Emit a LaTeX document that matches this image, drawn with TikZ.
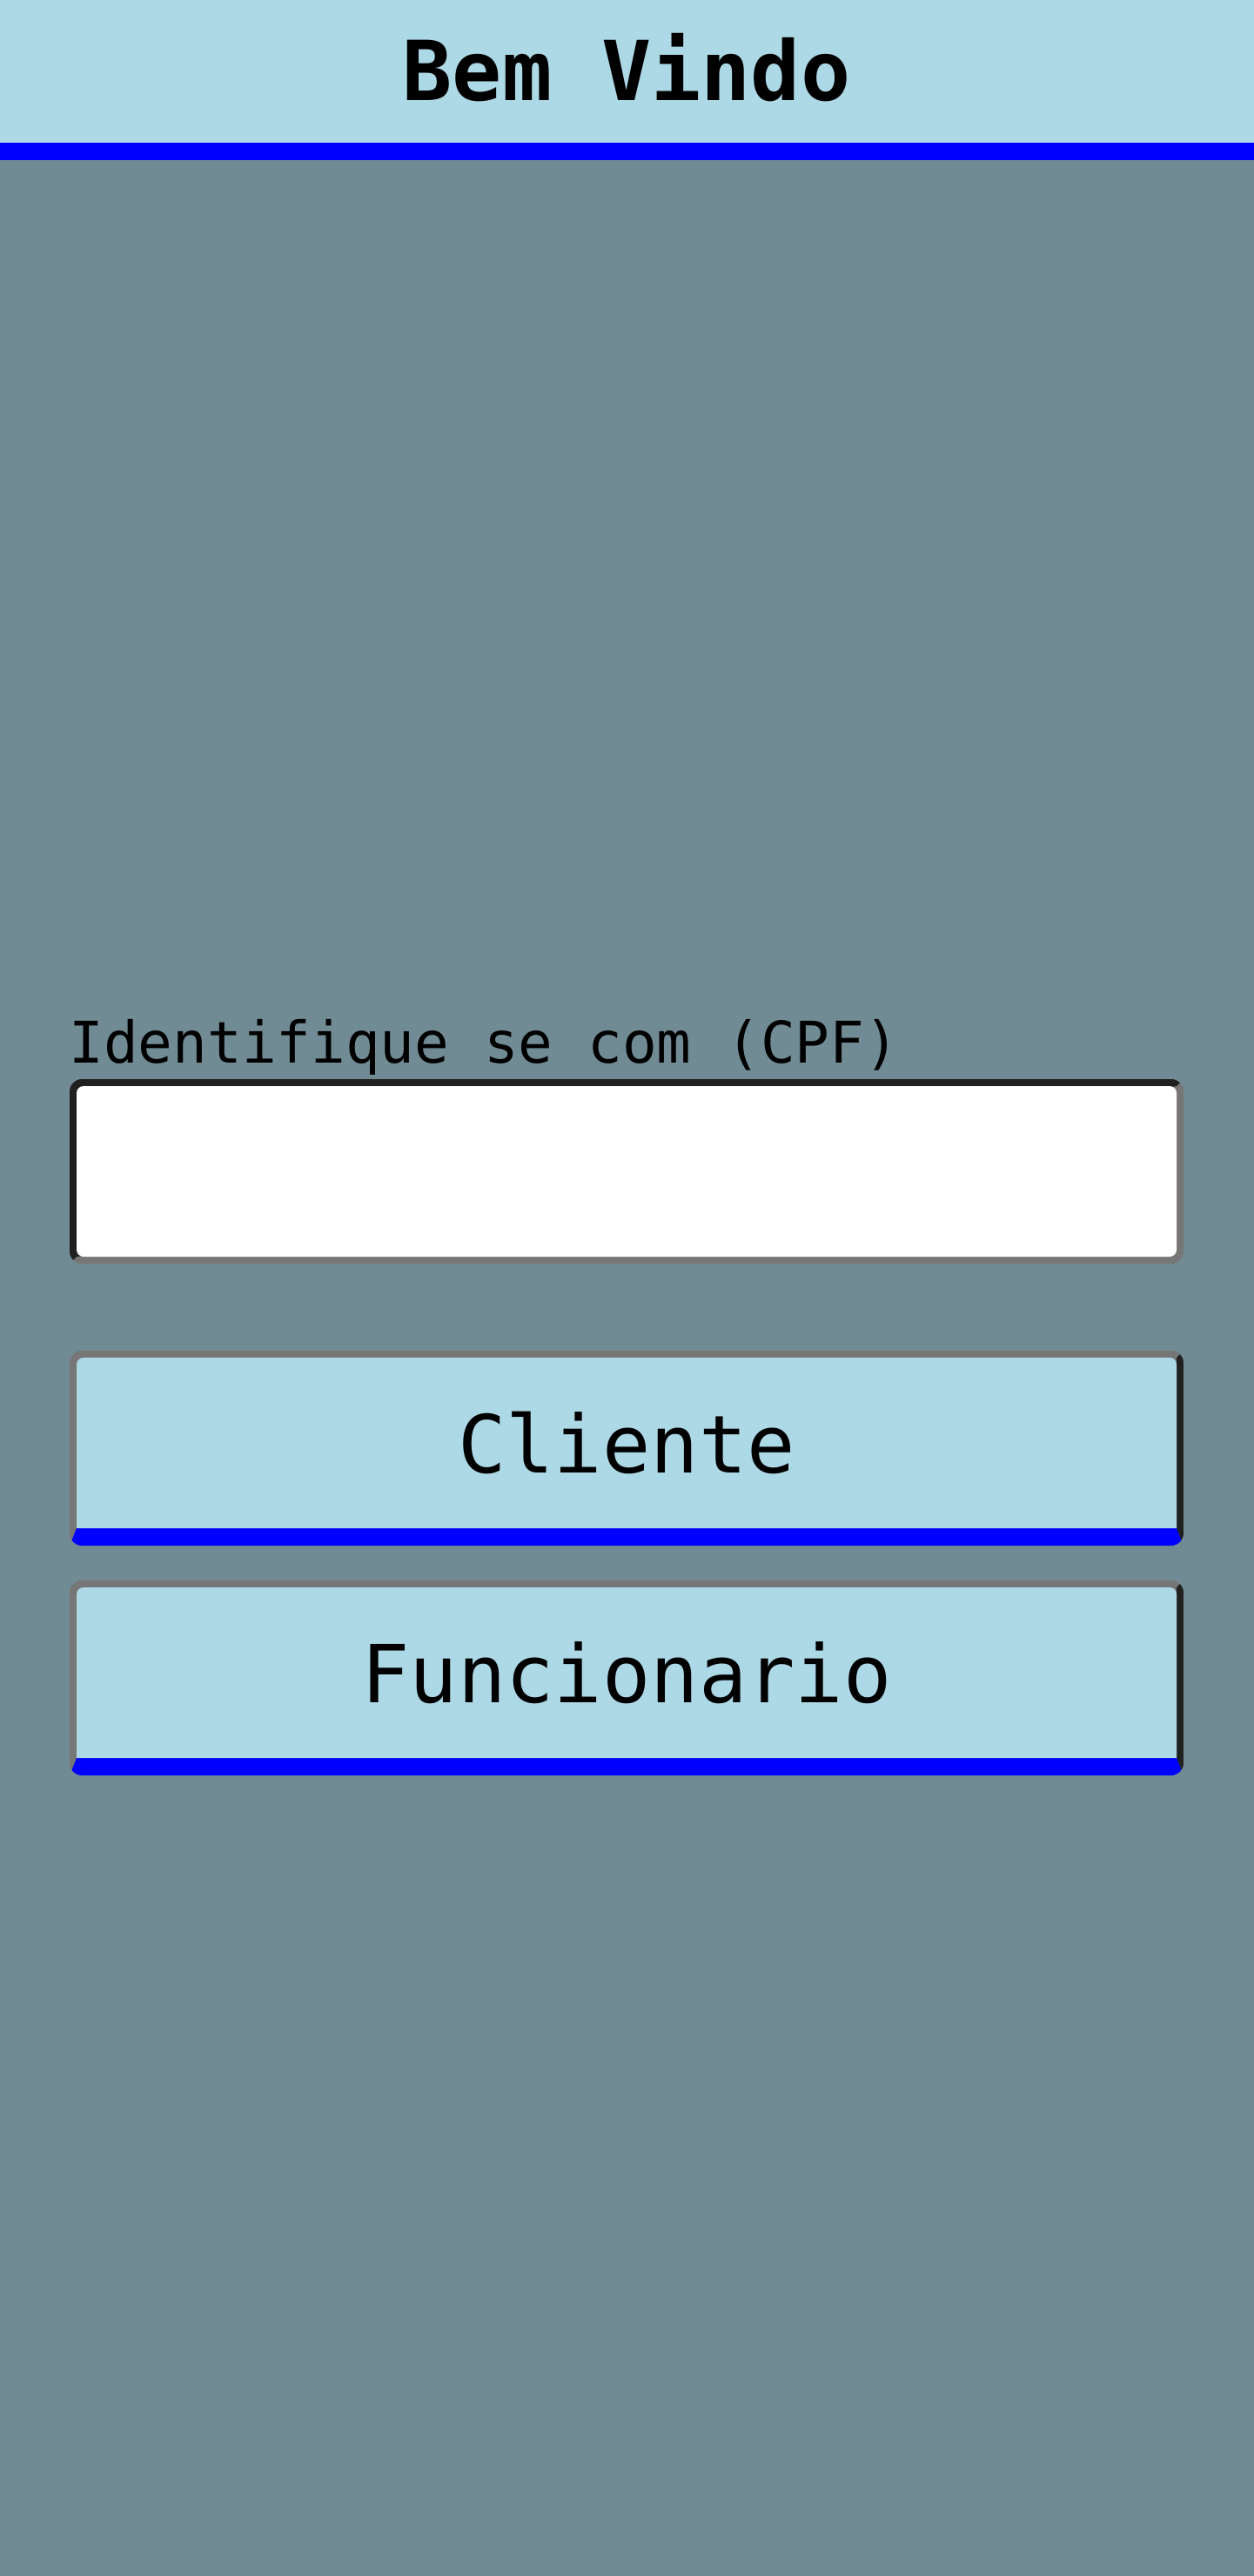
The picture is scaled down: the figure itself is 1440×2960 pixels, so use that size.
\documentclass[tikz,border=0pt]{standalone}
\usepackage{fontspec}
\setmonofont{DejaVu Sans Mono}
\usepackage{tikz}
\definecolor{fundo}{RGB}{113,139,148}
\definecolor{azulclaro}{RGB}{173,216,230}
\definecolor{borda}{RGB}{118,118,118}
\definecolor{bordaesc}{RGB}{32,32,32}

\begin{document}
\begin{tikzpicture}[x=0.5pt,y=-0.5pt,
  texto/.style={inner sep=0pt,font=\ttfamily\fontsize{46}{50}\selectfont}]
\useasboundingbox (0,0) rectangle (1440,2960);
\fill[fundo] (-4,-4) rectangle (1444,2964);
\fill[azulclaro] (-4,-4) rectangle (1444,164);
\fill[blue] (-4,164) rectangle (1444,184);
\node[texto,anchor=base,font=\ttfamily\bfseries\fontsize{47.5}{50}\selectfont] (titulo) at (720,116) {Bem Vindo};
\node[texto,anchor=base west,font=\ttfamily\fontsize{33}{36}\selectfont] (rotulo) at (79,1221) {Identifique se com (CPF)};
\begin{scope}
\clip[rounded corners=7pt] (80,1240) rectangle (1360,1452);
\fill[borda] (80,1240) rectangle (1360,1452);
\fill[bordaesc] (80,1240) -- (1360,1240) -- (1352,1248) -- (88,1444) -- (80,1452) -- cycle;
\end{scope}
\fill[white,rounded corners=4pt] (88,1248) rectangle (1352,1444);
\begin{scope}
\clip[rounded corners=7pt] (80,1552) rectangle (1360,1776);
\fill[borda] (80,1552) rectangle (1360,1776);
\fill[bordaesc] (1360,1552) -- (1352,1560) -- (1352,1756) -- (1360,1776) -- cycle;
\fill[blue] (80,1776) -- (88,1756) -- (1352,1756) -- (1360,1776) -- cycle;
\end{scope}
\fill[azulclaro] (88,1756) [rounded corners=4pt] -- (88,1560) -- (1352,1560) [sharp corners] -- (1352,1756) -- cycle;
\node[texto,anchor=base] (cliente) at (720,1692) {Cliente};
\begin{scope}
\clip[rounded corners=7pt] (80,1816) rectangle (1360,2040);
\fill[borda] (80,1816) rectangle (1360,2040);
\fill[bordaesc] (1360,1816) -- (1352,1824) -- (1352,2020) -- (1360,2040) -- cycle;
\fill[blue] (80,2040) -- (88,2020) -- (1352,2020) -- (1360,2040) -- cycle;
\end{scope}
\fill[azulclaro] (88,2020) [rounded corners=4pt] -- (88,1824) -- (1352,1824) [sharp corners] -- (1352,2020) -- cycle;
\node[texto,anchor=base] (funcionario) at (720,1956) {Funcionario};
\end{tikzpicture}
\end{document}
